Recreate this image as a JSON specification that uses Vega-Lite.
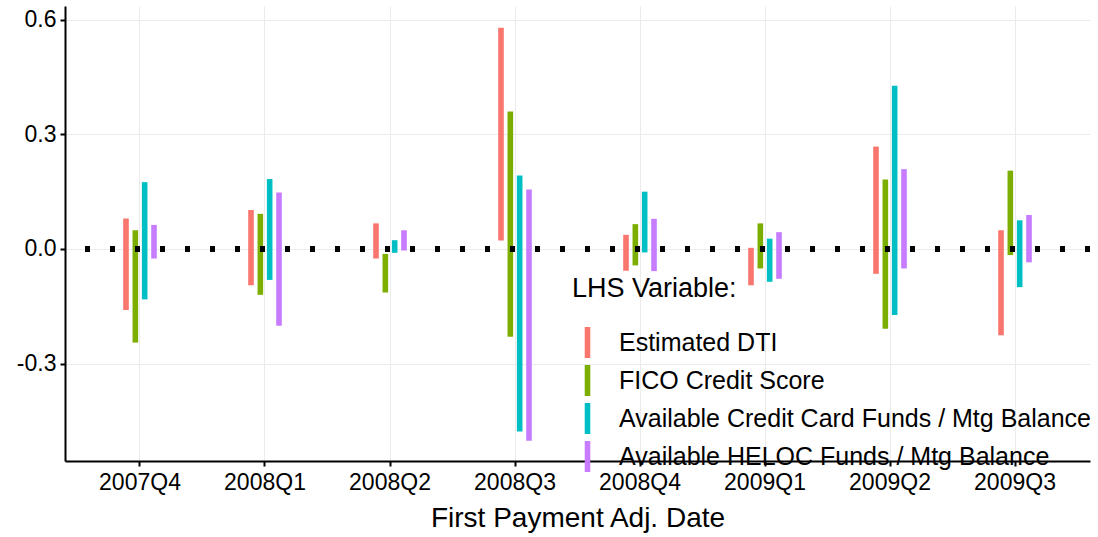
{
  "$schema": "https://vega.github.io/schema/vega-lite/v6.json",
  "width": 1025,
  "height": 455,
  "autosize": {"type": "none"},
  "padding": {"left": 65, "top": 6, "right": 8, "bottom": 76},
  "background": "white",
  "config": {
    "view": {"stroke": null},
    "font": "Liberation Sans",
    "axis": {"domainColor": "#000000", "tickColor": "#000000", "labelColor": "#000000", "titleColor": "#000000", "gridColor": "#EBEBEB", "gridWidth": 1}
  },
  "data": {
    "values": [
      {"q": "2007Q4", "var": "Estimated DTI", "lo": -0.160, "hi": 0.080},
      {"q": "2007Q4", "var": "FICO Credit Score", "lo": -0.245, "hi": 0.049},
      {"q": "2007Q4", "var": "Available Credit Card Funds / Mtg Balance", "lo": -0.132, "hi": 0.175},
      {"q": "2007Q4", "var": "Available HELOC Funds / Mtg Balance", "lo": -0.025, "hi": 0.063},
      {"q": "2008Q1", "var": "Estimated DTI", "lo": -0.095, "hi": 0.102},
      {"q": "2008Q1", "var": "FICO Credit Score", "lo": -0.120, "hi": 0.092},
      {"q": "2008Q1", "var": "Available Credit Card Funds / Mtg Balance", "lo": -0.081, "hi": 0.183},
      {"q": "2008Q1", "var": "Available HELOC Funds / Mtg Balance", "lo": -0.201, "hi": 0.148},
      {"q": "2008Q2", "var": "Estimated DTI", "lo": -0.025, "hi": 0.067},
      {"q": "2008Q2", "var": "FICO Credit Score", "lo": -0.114, "hi": -0.013},
      {"q": "2008Q2", "var": "Available Credit Card Funds / Mtg Balance", "lo": -0.010, "hi": 0.023},
      {"q": "2008Q2", "var": "Available HELOC Funds / Mtg Balance", "lo": -0.004, "hi": 0.049},
      {"q": "2008Q3", "var": "Estimated DTI", "lo": 0.022, "hi": 0.579},
      {"q": "2008Q3", "var": "FICO Credit Score", "lo": -0.230, "hi": 0.360},
      {"q": "2008Q3", "var": "Available Credit Card Funds / Mtg Balance", "lo": -0.478, "hi": 0.192},
      {"q": "2008Q3", "var": "Available HELOC Funds / Mtg Balance", "lo": -0.502, "hi": 0.156},
      {"q": "2008Q4", "var": "Estimated DTI", "lo": -0.057, "hi": 0.037},
      {"q": "2008Q4", "var": "FICO Credit Score", "lo": -0.043, "hi": 0.065},
      {"q": "2008Q4", "var": "Available Credit Card Funds / Mtg Balance", "lo": -0.009, "hi": 0.150},
      {"q": "2008Q4", "var": "Available HELOC Funds / Mtg Balance", "lo": -0.058, "hi": 0.079},
      {"q": "2009Q1", "var": "Estimated DTI", "lo": -0.095, "hi": 0.003},
      {"q": "2009Q1", "var": "FICO Credit Score", "lo": -0.051, "hi": 0.067},
      {"q": "2009Q1", "var": "Available Credit Card Funds / Mtg Balance", "lo": -0.086, "hi": 0.027},
      {"q": "2009Q1", "var": "Available HELOC Funds / Mtg Balance", "lo": -0.078, "hi": 0.044},
      {"q": "2009Q2", "var": "Estimated DTI", "lo": -0.065, "hi": 0.268},
      {"q": "2009Q2", "var": "FICO Credit Score", "lo": -0.209, "hi": 0.182},
      {"q": "2009Q2", "var": "Available Credit Card Funds / Mtg Balance", "lo": -0.173, "hi": 0.427},
      {"q": "2009Q2", "var": "Available HELOC Funds / Mtg Balance", "lo": -0.051, "hi": 0.209},
      {"q": "2009Q3", "var": "Estimated DTI", "lo": -0.226, "hi": 0.049},
      {"q": "2009Q3", "var": "FICO Credit Score", "lo": -0.016, "hi": 0.205},
      {"q": "2009Q3", "var": "Available Credit Card Funds / Mtg Balance", "lo": -0.100, "hi": 0.075},
      {"q": "2009Q3", "var": "Available HELOC Funds / Mtg Balance", "lo": -0.035, "hi": 0.089}
    ]
  },
  "layer": [
    {
      "mark": {"type": "bar", "width": {"band": 0.6}},
      "encoding": {
        "x": {
          "field": "q", "type": "nominal",
          "scale": {"type": "band", "paddingInner": 0, "paddingOuter": 0.1},
          "axis": {
            "title": "First Payment Adj. Date",
            "labelAngle": 0,
            "bandPosition": 0.5,
            "grid": true,
            "domainWidth": 2,
            "tickWidth": 2,
            "tickSize": 5,
            "labelFontSize": 23,
            "labelPadding": 5,
            "titleFontSize": 28,
            "titleFontWeight": "normal",
            "titlePadding": 10
          }
        },
        "xOffset": {
          "field": "var", "type": "nominal",
          "sort": ["Estimated DTI", "FICO Credit Score", "Available Credit Card Funds / Mtg Balance", "Available HELOC Funds / Mtg Balance"],
          "scale": {"type": "band", "paddingInner": 0, "paddingOuter": 0, "range": [20.7, 58.04]}
        },
        "y": {
          "field": "hi", "type": "quantitative",
          "scale": {"domain": [-0.555, 0.636], "nice": false, "zero": false},
          "axis": {
            "title": null,
            "values": [-0.3, 0, 0.3, 0.6],
            "labelExpr": "replace(format(datum.value, '.1f'), '\u2212', '-')",
            "grid": true,
            "domainWidth": 2,
            "tickWidth": 2,
            "tickSize": 5,
            "labelFontSize": 23,
            "labelPadding": 4
          }
        },
        "y2": {"field": "lo"},
        "color": {
          "field": "var", "type": "nominal",
          "sort": ["Estimated DTI", "FICO Credit Score", "Available Credit Card Funds / Mtg Balance", "Available HELOC Funds / Mtg Balance"],
          "scale": {"range": ["#F8766D", "#7CAE00", "#00BFC4", "#C77CFF"]},
          "legend": {
            "title": "LHS Variable:",
            "orient": "none",
            "legendX": 507,
            "legendY": 270,
            "titleFontSize": 27,
            "titleFontWeight": "normal",
            "titleColor": "#000000",
            "titlePadding": 24,
            "labelFontSize": 25,
            "labelColor": "#000000",
            "labelLimit": 700,
            "labelOffset": 16,
            "symbolType": "M-0.18,-1H0.18V1H-0.18Z",
            "symbolSize": 961,
            "symbolStrokeWidth": 0,
            "rowPadding": 7,
            "padding": 0
          }
        }
      }
    },
    {
      "mark": {"type": "rule", "color": "#000000", "strokeWidth": 5, "strokeDash": [5, 20], "strokeCap": "butt"},
      "encoding": {"y": {"datum": 0}}
    }
  ]
}
